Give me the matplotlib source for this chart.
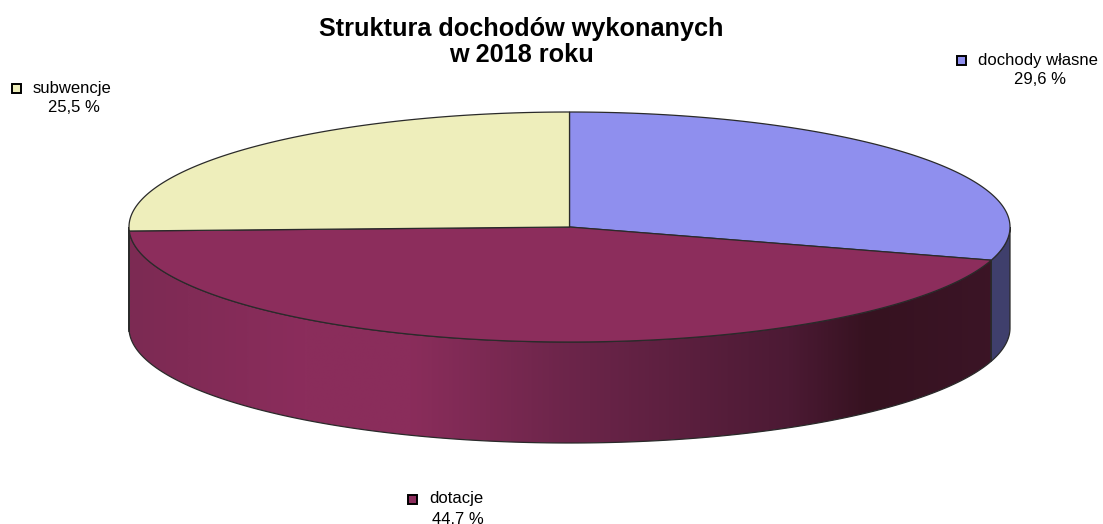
import numpy as np
import matplotlib.pyplot as plt
from matplotlib.patches import Polygon, Rectangle
from matplotlib.colors import LinearSegmentedColormap

plt.rcParams["font.family"] = ["Liberation Sans", "DejaVu Sans"]

# ── Data ───────────────────────────────────────────────────────────────────
labels = ["dochody własne", "dotacje", "subwencje"]
values = [29.6, 44.7, 25.5]
value_text = ["29,6 %", "44,7 %", "25,5 %"]
title = "Struktura dochodów wykonanych\nw 2018 roku"

# ── Style / geometry (pixels) ──────────────────────────────────────────────
W, H = 1103, 524
CX, CY = 569.5, 227.0
A, B = 440.5, 115.0
DEPTH = 101.0
EDGE = "#2a2a2a"
top_colors = ["#8f8fee", "#8c2d5c", "#eeeebb"]
side_colors = ["#3f3f6c", None, "#8a8a5e"]
label_pos = [(1038, 60), (456, 499), (72, 88)]

purple_side = LinearSegmentedColormap.from_list(
    "side", [(0.0, "#7c2a53"), (0.2, "#8b2d5c"), (0.32, "#8a2d5b"),
             (0.5, "#6c254a"), (0.75, "#4c1a34"), (0.84, "#361220"),
             (1.0, "#3c1527")])


def ell(theta, dy=0.0):
    # theta: clockwise from top, radians
    return CX + A * np.sin(theta), CY - B * np.cos(theta) + dy


fig = plt.figure(figsize=(W / 100, H / 100), dpi=100)
ax = fig.add_axes([0, 0, 1, 1])
ax.set_xlim(0, W)
ax.set_ylim(H, 0)
ax.axis("off")

fracs = np.array(values) / sum(values)
bounds = np.concatenate([[0], np.cumsum(fracs)]) * 2 * np.pi

# side walls (front half: theta between pi/2 and 3pi/2)
for i in range(len(values)):
    t0 = max(bounds[i], np.pi / 2)
    t1 = min(bounds[i + 1], 3 * np.pi / 2)
    if t1 <= t0:
        continue
    t = np.linspace(t0, t1, 200)
    xt, yt = ell(t)
    xb, yb = ell(t[::-1], DEPTH)
    pts = np.column_stack([np.concatenate([xt, xb]), np.concatenate([yt, yb])])
    poly = Polygon(pts, closed=True, facecolor=side_colors[i] or "none",
                   edgecolor=EDGE, linewidth=0.9, zorder=2)
    ax.add_patch(poly)
    if side_colors[i] is None:
        grad = np.linspace(0, 1, 512).reshape(1, -1)
        im = ax.imshow(grad, cmap=purple_side, aspect="auto",
                       extent=[CX - A, CX + A, CY + B + DEPTH + 2, CY - 2],
                       zorder=1.5, interpolation="bilinear")
        im.set_clip_path(poly)

# top wedges
for i in range(len(values)):
    t = np.linspace(bounds[i], bounds[i + 1], 300)
    xt, yt = ell(t)
    pts = np.column_stack([np.concatenate([[CX], xt]), np.concatenate([[CY], yt])])
    ax.add_patch(Polygon(pts, closed=True, facecolor=top_colors[i],
                         edgecolor=EDGE, linewidth=0.9, zorder=3))

# title
ax.text(521, 42, title, ha="center", va="center", fontsize=18.2,
        fontweight="bold", linespacing=1.12, zorder=5)

# data labels with legend keys
for i, (lx, ly) in enumerate(label_pos):
    t1 = ax.text(lx, ly, labels[i], ha="center", va="center", fontsize=12, zorder=5)
    ax.text(lx + 2, ly + 20, value_text[i], ha="center", va="center",
            fontsize=12, zorder=5)
    fig.canvas.draw()
    bb = t1.get_window_extent()
    x_left = bb.x0
    ax.add_patch(Rectangle((x_left - 21, ly - 4.5), 9, 9, facecolor=top_colors[i],
                           edgecolor="black", linewidth=1.4, zorder=5))

fig.savefig("out.png", dpi=100)
